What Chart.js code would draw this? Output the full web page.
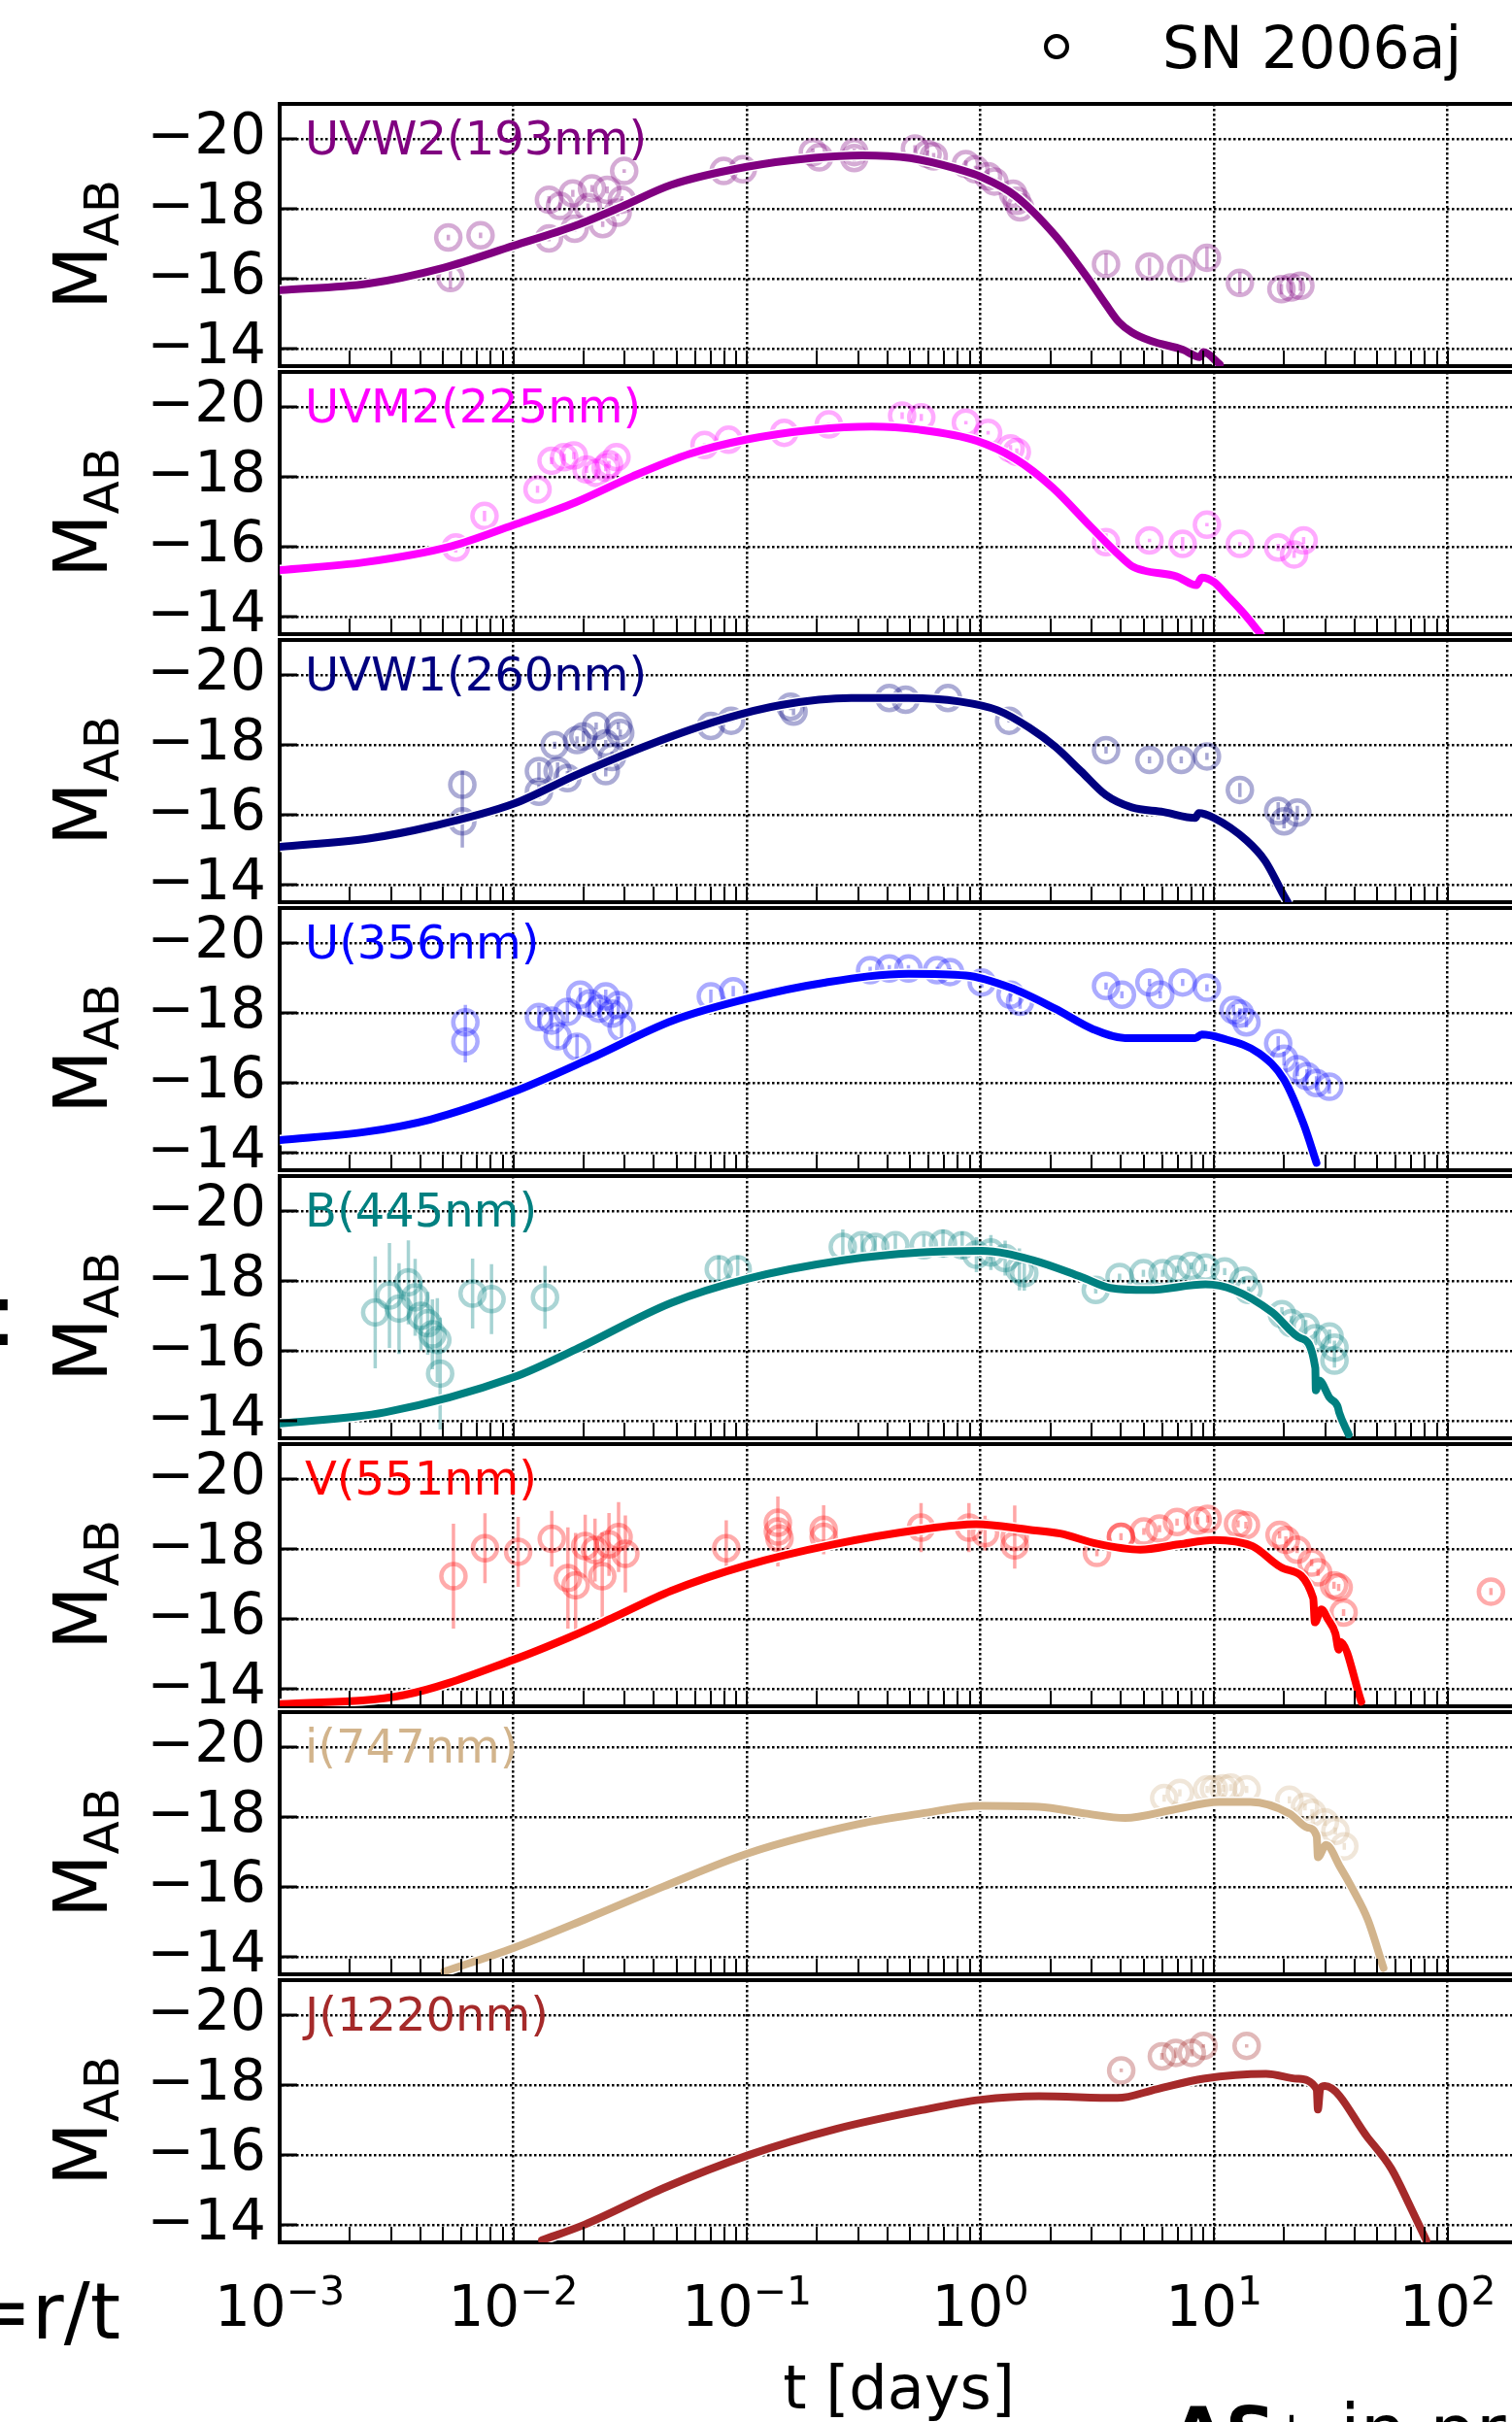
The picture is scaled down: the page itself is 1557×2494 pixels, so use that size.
<!DOCTYPE html>
<html>
<head>
<meta charset="utf-8">
<script src="https://cdn.jsdelivr.net/npm/chart.js@4.4.0/dist/chart.umd.min.js"></script>
<style>
    html, body { margin: 0; padding: 0; background: #fff; }
    #fig { position: relative; width: 1557px; height: 2494px; overflow: hidden; background: #fff; }
    #fig canvas { position: absolute; left: 0; }
</style>
</head>
<body>
<div id="fig"></div>
<script>
"use strict";

// observed photometry: log10(t / days), absolute AB magnitude, 1-sigma error
const uvw2LogT = [-2.278, -2.269, -2.140, -1.847, -1.800, -1.745, -1.663, -1.598, -1.535, -1.525, -1.847, -1.737, -1.617, -1.553, -1.680, -1.099, -1.017, -0.717, -0.690, -0.540, -0.540, -0.280, -0.226, -0.200, -0.062, -0.021, 0.033, 0.060, 0.140, 0.156, 0.170, 0.538, 0.724, 0.860, 0.970, 1.111, 1.289, 1.330, 1.370];
const uvw2Mag = [-17.18, -16.02, -17.24, -18.26, -18.08, -18.44, -18.58, -18.54, -18.26, -19.08, -17.15, -17.43, -17.56, -17.89, -18.05, -19.08, -19.13, -19.62, -19.47, -19.62, -19.45, -19.72, -19.57, -19.50, -19.28, -19.13, -18.93, -18.78, -18.43, -18.23, -18.04, -16.42, -16.35, -16.30, -16.60, -15.88, -15.70, -15.75, -15.80];
const uvw2Err = [0.08, 0.3, 0.08, 0.1, 0.1, 0.1, 0.1, 0.1, 0.1, 0.05, 0.08, 0.08, 0.08, 0.1, 0.1, 0.05, 0.05, 0.1, 0.1, 0.1, 0.1, 0.1, 0.1, 0.1, 0.1, 0.1, 0.1, 0.1, 0.1, 0.1, 0.1, 0.3, 0.25, 0.25, 0.3, 0.3, 0.15, 0.15, 0.15];

const uvm2LogT = [-2.246, -2.123, -1.896, -1.836, -1.782, -1.741, -1.686, -1.645, -1.604, -1.558, -1.590, -1.181, -1.078, -0.840, -0.649, -0.335, -0.253, -0.062, 0.033, 0.129, 0.156, 0.538, 0.724, 0.866, 0.970, 1.111, 1.275, 1.343, 1.384];
const uvm2Mag = [-15.98, -16.88, -17.64, -18.46, -18.56, -18.61, -18.21, -18.11, -18.26, -18.56, -18.36, -18.91, -19.06, -19.26, -19.50, -19.75, -19.70, -19.55, -19.26, -18.81, -18.71, -16.13, -16.18, -16.08, -16.63, -16.08, -15.98, -15.78, -16.18];
const uvm2Err = [0.15, 0.15, 0.1, 0.1, 0.1, 0.1, 0.1, 0.1, 0.1, 0.1, 0.1, 0.05, 0.05, 0.05, 0.05, 0.1, 0.1, 0.05, 0.05, 0.1, 0.1, 0.25, 0.05, 0.2, 0.05, 0.05, 0.1, 0.1, 0.1];

const uvw1LogT = [-2.218, -2.218, -1.890, -1.890, -1.823, -1.810, -1.768, -1.727, -1.700, -1.645, -1.604, -1.604, -1.550, -1.542, -1.577, -1.154, -1.067, -0.813, -0.800, -0.390, -0.320, -0.139, 0.123, 0.538, 0.724, 0.860, 0.970, 1.111, 1.275, 1.300, 1.357];
const uvw1Mag = [-16.86, -15.81, -17.25, -16.66, -17.99, -17.25, -17.05, -18.14, -18.24, -18.54, -18.04, -17.25, -18.54, -18.34, -17.65, -18.54, -18.69, -19.09, -18.95, -19.34, -19.29, -19.34, -18.69, -17.85, -17.57, -17.57, -17.67, -16.71, -16.11, -15.81, -16.06];
const uvw1Err = [0.4, 0.75, 0.25, 0.2, 0.1, 0.25, 0.2, 0.1, 0.15, 0.1, 0.1, 0.15, 0.1, 0.1, 0.15, 0.05, 0.05, 0.1, 0.1, 0.05, 0.05, 0.05, 0.05, 0.1, 0.1, 0.1, 0.1, 0.2, 0.25, 0.2, 0.2];

const uLogT = [-2.205, -2.205, -1.890, -1.836, -1.810, -1.768, -1.727, -1.713, -1.672, -1.632, -1.604, -1.577, -1.550, -1.536, -1.154, -1.058, -0.472, -0.390, -0.308, -0.185, -0.130, 0.006, 0.129, 0.170, 0.538, 0.606, 0.724, 0.770, 0.866, 0.970, 1.084, 1.111, 1.139, 1.275, 1.300, 1.357, 1.398, 1.439, 1.494];
const uMag = [-17.73, -17.18, -17.88, -17.78, -17.33, -18.03, -17.03, -18.52, -18.27, -18.12, -18.47, -17.98, -18.22, -17.58, -18.47, -18.62, -19.22, -19.27, -19.27, -19.22, -19.17, -18.87, -18.52, -18.32, -18.77, -18.52, -18.87, -18.52, -18.87, -18.72, -18.08, -17.98, -17.73, -17.13, -16.69, -16.39, -16.19, -15.99, -15.89];
const uErr = [0.5, 0.6, 0.3, 0.3, 0.35, 0.3, 0.35, 0.2, 0.3, 0.25, 0.2, 0.3, 0.25, 0.3, 0.2, 0.15, 0.1, 0.1, 0.1, 0.1, 0.1, 0.15, 0.2, 0.2, 0.1, 0.1, 0.1, 0.1, 0.1, 0.1, 0.15, 0.15, 0.15, 0.2, 0.2, 0.2, 0.2, 0.2, 0.2];

const bLogT = [-2.591, -2.530, -2.489, -2.449, -2.420, -2.395, -2.366, -2.346, -2.325, -2.313, -2.174, -2.093, -1.864, -1.120, -1.039, -0.589, -0.507, -0.450, -0.364, -0.242, -0.160, -0.078, -0.017, 0.045, 0.106, 0.167, 0.188, 0.494, 0.596, 0.698, 0.780, 0.842, 0.903, 0.964, 1.046, 1.127, 1.148, 1.291, 1.332, 1.393, 1.434, 1.495, 1.516, 1.516];
const bMag = [-17.10, -17.58, -17.21, -17.96, -17.53, -17.00, -16.79, -16.47, -16.31, -15.35, -17.64, -17.48, -17.53, -18.33, -18.33, -18.97, -19.02, -18.97, -19.02, -19.02, -19.07, -19.02, -18.75, -18.81, -18.65, -18.33, -18.22, -17.74, -18.11, -18.22, -18.22, -18.33, -18.43, -18.38, -18.27, -18.01, -17.74, -17.05, -16.79, -16.68, -16.36, -16.41, -16.09, -15.72];
const bErr = [1.6, 1.5, 1.3, 1.2, 1.1, 1.0, 0.9, 1.0, 1.2, 1.6, 1.0, 1.0, 0.9, 0.4, 0.4, 0.5, 0.3, 0.3, 0.3, 0.3, 0.4, 0.4, 0.5, 0.5, 0.5, 0.6, 0.5, 0.1, 0.1, 0.1, 0.1, 0.1, 0.1, 0.1, 0.1, 0.1, 0.1, 0.2, 0.2, 0.2, 0.2, 0.2, 0.2, 0.2];

const vLogT = [-2.256, -2.121, -1.979, -1.835, -1.766, -1.733, -1.692, -1.650, -1.619, -1.590, -1.549, -1.520, -1.088, -0.867, -0.867, -0.860, -0.671, -0.671, -0.254, -0.049, 0.020, 0.147, 0.147, 0.499, 0.602, 0.602, 0.700, 0.767, 0.842, 0.931, 0.973, 1.103, 1.137, 1.281, 1.308, 1.356, 1.418, 1.446, 1.514, 1.534, 1.555, 2.186];
const vMag = [-17.22, -18.02, -17.92, -18.29, -17.17, -16.96, -18.08, -17.97, -17.22, -18.13, -18.34, -17.86, -18.02, -18.50, -18.75, -18.30, -18.55, -18.35, -18.61, -18.61, -18.45, -18.34, -18.10, -17.89, -18.35, -18.35, -18.50, -18.58, -18.77, -18.81, -18.86, -18.72, -18.68, -18.40, -18.26, -17.98, -17.61, -17.33, -16.96, -16.90, -16.18, -16.78];
const vErr = [1.5, 1.0, 1.0, 0.8, 1.45, 1.5, 0.9, 0.9, 1.25, 0.9, 1.0, 1.1, 0.8, 1.0, 0.6, 0.5, 0.7, 0.5, 0.7, 0.7, 0.5, 0.9, 0.5, 0.1, 0.1, 0.1, 0.1, 0.1, 0.1, 0.1, 0.1, 0.1, 0.1, 0.1, 0.1, 0.1, 0.1, 0.1, 0.1, 0.1, 0.1, 0.1];

const iLogT = [0.787, 0.854, 0.971, 1.000, 1.040, 1.072, 1.140, 1.323, 1.390, 1.420, 1.475, 1.520, 1.558];
const iMag = [-18.54, -18.69, -18.79, -18.80, -18.82, -18.84, -18.79, -18.49, -18.29, -18.12, -17.85, -17.60, -17.16];
const iErr = [0.1, 0.1, 0.1, 0.1, 0.1, 0.1, 0.1, 0.1, 0.1, 0.1, 0.1, 0.1, 0.1];

const jLogT = [0.603, 0.777, 0.837, 0.905, 0.955, 1.140];
const jMag = [-18.42, -18.82, -18.92, -18.92, -19.12, -19.12];
const jErr = [0.05, 0.1, 0.15, 0.1, 0.05, 0.05];

// model light curves
const uvw2ModelLogT = [-3.0, -2.62, -2.30, -2.0, -1.733, -1.536, -1.325, -1.0, -0.712, -0.506, -0.30, -0.099, 0.004, 0.148, 0.32, 0.456, 0.538, 0.593, 0.648, 0.73, 0.866, 0.94, 0.955, 1.025];
const uvw2ModelMag = [-15.67, -15.86, -16.31, -16.94, -17.52, -18.06, -18.68, -19.20, -19.46, -19.53, -19.45, -19.14, -18.91, -18.38, -17.24, -16.05, -15.26, -14.76, -14.47, -14.22, -13.97, -13.76, -13.90, -13.55];

const uvm2ModelLogT = [-3.0, -2.634, -2.263, -2.0, -1.733, -1.49, -1.243, -1.0, -0.712, -0.465, -0.263, -0.016, 0.148, 0.31, 0.473, 0.597, 0.648, 0.70, 0.84, 0.925, 0.948, 1.0, 1.057, 1.127, 1.20];
const uvm2ModelMag = [-15.33, -15.56, -16.02, -16.62, -17.27, -18.01, -18.66, -19.07, -19.35, -19.44, -19.35, -19.03, -18.52, -17.69, -16.57, -15.74, -15.45, -15.32, -15.15, -14.90, -15.12, -14.99, -14.60, -14.10, -13.50];

const uvw1ModelLogT = [-3.0, -2.62, -2.355, -2.0, -1.727, -1.40, -1.099, -0.854, -0.553, -0.308, -0.089, 0.074, 0.21, 0.32, 0.43, 0.538, 0.648, 0.784, 0.92, 0.935, 1.0, 1.139, 1.22, 1.30, 1.32];
const uvw1ModelMag = [-15.08, -15.32, -15.66, -16.31, -17.15, -18.05, -18.74, -19.14, -19.34, -19.34, -19.24, -18.99, -18.49, -17.95, -17.25, -16.56, -16.21, -16.08, -15.91, -16.05, -15.91, -15.27, -14.67, -13.68, -13.45];

const uModelLogT = [-3.0, -2.628, -2.355, -2.0, -1.672, -1.318, -0.99, -0.663, -0.308, -0.062, 0.129, 0.32, 0.484, 0.62, 0.784, 0.92, 0.948, 1.03, 1.194, 1.30, 1.385, 1.439];
const uModelMag = [-14.36, -14.60, -14.95, -15.74, -16.69, -17.78, -18.42, -18.87, -19.12, -19.07, -18.72, -18.12, -17.53, -17.28, -17.28, -17.28, -17.38, -17.28, -16.84, -16.09, -14.80, -13.71];

const bModelLogT = [-3.0, -2.55, -2.0, -1.733, -1.325, -0.998, -0.589, -0.262, 0.004, 0.228, 0.433, 0.556, 0.719, 0.964, 1.086, 1.25, 1.372, 1.434, 1.436, 1.45, 1.495, 1.530, 1.536, 1.577];
const bModelMag = [-13.92, -14.24, -15.24, -16.04, -17.37, -18.06, -18.59, -18.81, -18.86, -18.59, -18.11, -17.80, -17.74, -17.90, -17.74, -17.10, -16.36, -15.51, -14.87, -15.15, -14.66, -14.40, -14.24, -13.60];

const vModelLogT = [-3.0, -2.469, -2.0, -1.733, -1.568, -1.325, -0.998, -0.63, -0.262, -0.017, 0.208, 0.342, 0.50, 0.685, 0.85, 1.0, 1.165, 1.302, 1.425, 1.432, 1.46, 1.487, 1.52, 1.534, 1.54, 1.631];
const vModelMag = [-13.56, -13.82, -14.83, -15.55, -16.05, -16.80, -17.54, -18.13, -18.55, -18.71, -18.55, -18.44, -18.15, -17.98, -18.13, -18.26, -18.08, -17.43, -16.59, -15.90, -16.27, -16.00, -15.58, -15.12, -15.35, -13.63];

const iModelLogT = [-2.295, -2.0, -1.693, -1.357, -0.995, -0.519, -0.252, 0.003, 0.251, 0.45, 0.62, 0.821, 1.022, 1.156, 1.323, 1.40, 1.44, 1.445, 1.48, 1.541, 1.592, 1.659, 1.726];
const iModelMag = [-13.58, -14.25, -15.07, -16.01, -16.96, -17.80, -18.10, -18.32, -18.29, -18.10, -17.97, -18.20, -18.43, -18.43, -18.10, -17.70, -17.45, -16.85, -17.20, -16.56, -15.96, -15.06, -13.68];

const jModelLogT = [-1.877, -1.693, -1.357, -0.995, -0.62, -0.252, 0.003, 0.251, 0.586, 0.754, 0.955, 1.223, 1.357, 1.44, 1.445, 1.455, 1.475, 1.659, 1.76, 1.842, 1.909];
const jModelMag = [-13.56, -14.01, -15.05, -15.99, -16.74, -17.28, -17.58, -17.68, -17.63, -17.88, -18.18, -18.32, -18.18, -17.88, -17.30, -17.90, -17.97, -16.49, -15.60, -14.50, -13.56];

const bandNames = ["UVW2(193nm)", "UVM2(225nm)", "UVW1(260nm)", "U(356nm)", "B(445nm)", "V(551nm)", "i(747nm)", "J(1220nm)"];
const bandColors = ["#800080", "#ff00ff", "#000080", "#0000ff", "#008080", "#ff0000", "#d2b48c", "#a52a2a"];
const legendLabel = "SN 2006aj";

// axes
const yTickVals = [-20, -18, -16, -14];
const xDecades = [-3, -2, -1, 0, 1, 2];
const xMin = 1e-3;
const xMax = 200;

const obsLogT = [uvw2LogT, uvm2LogT, uvw1LogT, uLogT, bLogT, vLogT, iLogT, jLogT];
const obsMag = [uvw2Mag, uvm2Mag, uvw1Mag, uMag, bMag, vMag, iMag, jMag];
const obsErr = [uvw2Err, uvm2Err, uvw1Err, uErr, bErr, vErr, iErr, jErr];
const modelLogT = [uvw2ModelLogT, uvm2ModelLogT, uvw1ModelLogT, uModelLogT, bModelLogT, vModelLogT, iModelLogT, jModelLogT];
const modelMag = [uvw2ModelMag, uvm2ModelMag, uvw1ModelMag, uModelMag, bModelMag, vModelMag, iModelMag, jModelMag];

const FONT = '"DejaVu Sans"';
const panelTop0 = 107;
const panelPitch = 276;
const panelHeight = 270;
const figHeight = 2494;

const xTicks = [];
xDecades.forEach(e => {
    for(let k = 1; k <= 9; k++) {
        const v = k * Math.pow(10, e);
        if(v <= xMax) xTicks.push({value: v, major: k === 1});
    }
});

function rgba(hex, a) {
    const n = parseInt(hex.slice(1), 16);
    return `rgba(${n >> 16},${(n >> 8) & 255},${n & 255},${a})`;
}

function toPoints(logT, mag) {
    return logT.map((lt, i) => ({x: Math.pow(10, lt), y: mag[i]}));
}

function toErrorBars(logT, mag, err) {
    const out = [];
    logT.forEach((lt, i) => {
        const x = Math.pow(10, lt);
        out.push({x: x, y: mag[i] - err[i]}, {x: x, y: mag[i] + err[i]}, {x: x, y: null});
    });
    return out;
}

// spines on top, inward ticks, band name and the M_AB label
const panelDecor = {
    id: "panelDecor",
    afterDraw(chart, args, opts) {
        const {ctx, chartArea: a} = chart;
        const xs = chart.scales.x, ys = chart.scales.y;
        ctx.save();
        ctx.strokeStyle = "#000";
        ctx.lineWidth = 4;
        ctx.beginPath();
        ctx.moveTo(a.left - 2, a.top);
        ctx.lineTo(a.right, a.top);
        ctx.stroke();

        ctx.lineWidth = 2;
        xs.ticks.forEach(t => {
            const px = Math.round(xs.getPixelForValue(t.value));
            if(px <= a.left + 1 || px > a.right) return;
            ctx.beginPath();
            ctx.moveTo(px, a.bottom);
            ctx.lineTo(px, a.bottom - 16);
            ctx.stroke();
        });
        ctx.lineWidth = 3;
        ys.ticks.forEach(t => {
            const py = ys.getPixelForValue(t.value);
            ctx.beginPath();
            ctx.moveTo(a.left, py);
            ctx.lineTo(a.left + 18, py);
            ctx.stroke();
        });

        ctx.fillStyle = opts.color;
        ctx.font = `48px ${FONT}`;
        ctx.textAlign = "left";
        ctx.textBaseline = "alphabetic";
        ctx.fillText(opts.label, a.left + 26, a.top + 52);

        ctx.fillStyle = "#000";
        ctx.translate(110, a.top + 212);
        ctx.rotate(-Math.PI / 2);
        ctx.font = `76px ${FONT}`;
        ctx.fillText("M", 0, 0);
        const w = ctx.measureText("M").width;
        ctx.font = `50px ${FONT}`;
        ctx.fillText("AB", w, 12);
        ctx.restore();
    }
};

const legendDecor = {
    id: "legendDecor",
    afterDraw(chart) {
        const {ctx, chartArea: a} = chart;
        ctx.save();
        ctx.strokeStyle = "#000";
        ctx.lineWidth = 4;
        ctx.beginPath();
        ctx.arc(1088, a.top - 59, 11, 0, 2 * Math.PI);
        ctx.stroke();
        ctx.fillStyle = "#000";
        ctx.font = `60px ${FONT}`;
        ctx.textAlign = "left";
        ctx.textBaseline = "alphabetic";
        ctx.fillText(legendLabel, 1197, a.top - 37);
        ctx.restore();
    }
};

// the bits of neighbouring panels that show at the edges
const colonDecor = {
    id: "colonDecor",
    afterDraw(chart) {
        const {ctx, chartArea: a} = chart;
        ctx.save();
        ctx.fillStyle = "#000";
        ctx.font = `90px ${FONT}`;
        ctx.textAlign = "left";
        ctx.fillText(":", -12, a.top + 174);
        ctx.restore();
    }
};

const xAxisDecor = {
    id: "xAxisDecor",
    afterDraw(chart) {
        const {ctx, chartArea: a} = chart;
        const xs = chart.scales.x;
        ctx.save();
        ctx.fillStyle = "#000";
        ctx.textAlign = "left";
        ctx.textBaseline = "alphabetic";
        const base = a.bottom + 86;
        xDecades.forEach(e => {
            const px = xs.getPixelForValue(Math.pow(10, e));
            const ex = e < 0 ? "\u2212" + (-e) : String(e);
            ctx.font = `58px ${FONT}`;
            const w1 = ctx.measureText("10").width;
            ctx.font = `41px ${FONT}`;
            const w2 = ctx.measureText(ex).width;
            const x0 = px - (w1 + w2) / 2;
            ctx.font = `58px ${FONT}`;
            ctx.fillText("10", x0, base);
            ctx.font = `41px ${FONT}`;
            ctx.fillText(ex, x0 + w1, base - 22);
        });
        ctx.font = `62px ${FONT}`;
        ctx.textAlign = "center";
        ctx.fillText("t [days]", (a.left + a.right) / 2, a.bottom + 171);

        ctx.textAlign = "right";
        ctx.font = `80px ${FONT}`;
        ctx.fillText("=r/t", 124, a.bottom + 99);

        ctx.textAlign = "left";
        ctx.font = `bold 72px ${FONT}`;
        ctx.fillText("AS", 1206, a.bottom + 220);
        ctx.font = `50px ${FONT}`;
        ctx.fillText("+", 1309, a.bottom + 209);
        ctx.font = `75px ${FONT}`;
        ctx.fillText("in pr", 1380, a.bottom + 220);
        ctx.restore();
    }
};

const fig = document.getElementById("fig");

bandNames.forEach((name, i) => {
    const last = i === bandNames.length - 1;
    const padTop = i === 0 ? panelTop0 : 60;
    const padBottom = last ? figHeight - (panelTop0 + panelPitch * i + panelHeight) : 60;
    const canvas = document.createElement("canvas");
    canvas.width = 1580;
    canvas.height = padTop + panelHeight + padBottom;
    canvas.style.top = (panelTop0 + panelPitch * i - padTop) + "px";
    fig.appendChild(canvas);

    const color = bandColors[i];
    const model = toPoints(modelLogT[i], modelMag[i]);
    const plugins = [panelDecor];
    if(i === 0) plugins.push(legendDecor);
    if(i === 4) plugins.push(colonDecor);
    if(last) plugins.push(xAxisDecor);

    new Chart(canvas, {
        type: "line",
        data: {
            datasets: [
                {
                    data: model,
                    borderColor: color,
                    borderWidth: 8,
                    pointRadius: 0,
                    cubicInterpolationMode: "monotone",
                    borderJoinStyle: "round",
                    borderCapStyle: "round",
                    clip: 0,
                    order: 1
                },
                {
                    data: model,
                    borderColor: "#fff",
                    borderWidth: 11,
                    pointRadius: 0,
                    cubicInterpolationMode: "monotone",
                    borderJoinStyle: "round",
                    clip: 0,
                    order: 2
                },
                {
                    data: toPoints(obsLogT[i], obsMag[i]),
                    showLine: false,
                    pointStyle: "circle",
                    pointRadius: 12.5,
                    pointBorderWidth: 4.5,
                    pointBackgroundColor: "rgba(0,0,0,0)",
                    pointBorderColor: rgba(color, 0.33),
                    order: 3
                },
                {
                    data: toErrorBars(obsLogT[i], obsMag[i], obsErr[i]),
                    borderColor: rgba(color, 0.35),
                    borderWidth: 3.5,
                    pointRadius: 0,
                    spanGaps: false,
                    order: 4
                }
            ]
        },
        options: {
            responsive: false,
            animation: false,
            events: [],
            layout: {padding: {top: padTop, bottom: padBottom, left: 0, right: 4}},
            plugins: {
                legend: {display: false},
                tooltip: {enabled: false},
                panelDecor: {label: name, color: color}
            },
            scales: {
                x: {
                    type: "logarithmic",
                    min: xMin,
                    max: xMax,
                    afterFit(s) { s.height = 0; },
                    afterBuildTicks(s) { s.ticks = xTicks.map(t => ({value: t.value, major: t.major})); },
                    ticks: {display: false},
                    grid: {
                        color: c => (c.tick && c.tick.major) ? "#000" : "rgba(0,0,0,0)",
                        lineWidth: 2.5,
                        drawTicks: false
                    },
                    border: {display: true, color: "#000", width: 4, dash: [2.5, 2.5]}
                },
                y: {
                    type: "linear",
                    reverse: true,
                    min: -21,
                    max: -13.5,
                    afterFit(s) { s.width = 288; },
                    afterBuildTicks(s) { s.ticks = yTickVals.map(v => ({value: v})); },
                    ticks: {
                        color: "#000",
                        font: {family: "DejaVu Sans", size: 58},
                        padding: 14,
                        callback: v => "\u2212" + Math.abs(v)
                    },
                    grid: {color: "#000", lineWidth: 2.5, drawTicks: false},
                    border: {display: true, color: "#000", width: 4, dash: [2.5, 2.5]}
                }
            }
        },
        plugins: plugins
    });
});
</script>
</body>
</html>
